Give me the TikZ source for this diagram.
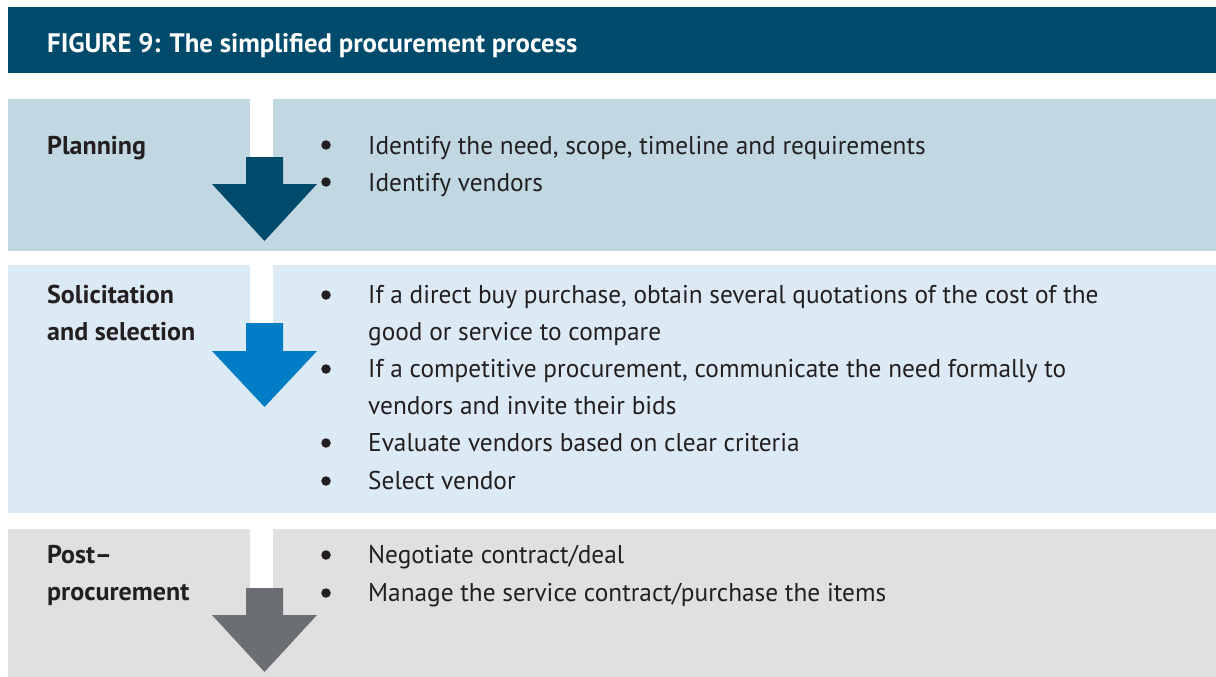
\documentclass[tikz,border=0pt]{standalone}
\usepackage{fontspec}
\setmainfont{PT Sans}
\newfontfamily\bodyfont{PT Sans}[FakeStretch=0.985]
\newfontfamily\lblfont{PT Sans}[FakeStretch=1.012]
\definecolor{hdr}{HTML}{004B6B}
\definecolor{boxa}{HTML}{C1D8E3}
\definecolor{boxb}{HTML}{DCEAF5}
\definecolor{boxc}{HTML}{E0E0E0}
\definecolor{arra}{HTML}{004B6B}
\definecolor{arrb}{HTML}{007DC5}
\definecolor{arrc}{HTML}{6B6E72}
\definecolor{ink}{HTML}{231F20}
\begin{document}
\begin{tikzpicture}[x=1pt,y=-1pt,
  txt/.style={anchor=base west, inner sep=0pt, text=ink, font=\bodyfont\fontsize{25.7}{30}\selectfont},
  lbl/.style={anchor=base west, inner sep=0pt, text=ink, font=\lblfont\fontsize{25.7}{30}\selectfont\bfseries},
  ttl/.style={anchor=base west, inner sep=0pt, text=white, font=\fontsize{26.75}{30}\selectfont\bfseries},
  dot/.style={circle, fill=ink, inner sep=0pt, minimum size=9.5pt},
]
\useasboundingbox (0,0) rectangle (1216,677);
\fill[white] (0,0) rectangle (1216,677);
% header
\fill[hdr] (8,7) rectangle (1216,73);
\node[ttl] (title) at (47,53) {FIGURE 9: The simplified procurement process};
% boxes
\fill[boxa] (8,99) rectangle (1216,251);
\fill[white] (250,99) rectangle (273,157);
\fill[boxb] (8,265) rectangle (1216,513);
\fill[white] (250,265) rectangle (273,323);
\fill[boxc] (8,529) rectangle (1216,677);
\fill[white] (250,529) rectangle (273,588);
% arrows
\fill[arra] (246,157) -- (283,157) -- (283,184) -- (317,184) -- (264.5,241) -- (212,184) -- (246,184) -- cycle;
\fill[arrb] (246,323) -- (283,323) -- (283,351) -- (317,351) -- (264.5,407) -- (212,351) -- (246,351) -- cycle;
\fill[arrc] (246,588) -- (283,588) -- (283,615) -- (317,615) -- (264.5,672) -- (212,615) -- (246,615) -- cycle;
% labels
\node[lbl] (l1) at (47,154) {Planning};
\node[lbl] (l2a) at (47,303) {Solicitation};
\node[lbl] (l2b) at (47,340) {and selection};
\node[lbl] (l3a) at (47,563) {Post–};
\node[lbl] (l3b) at (47,600) {procurement};
% box 1 bullets
\node[dot] (d11) at (326,145) {};
\node[txt] (t11) at (368,154) {Identify the need, scope, timeline and requirements};
\node[dot] (d12) at (326,182) {};
\node[txt] (t12) at (368,191) {Identify vendors};
% box 2 bullets
\node[dot] (d21) at (326,295) {};
\node[txt] (t21a) at (368,303) {If a direct buy purchase, obtain several quotations of the cost of the};
\node[txt] (t21b) at (368,340) {good or service to compare};
\node[dot] (d22) at (326,369) {};
\node[txt] (t22a) at (368,377) {If a competitive procurement, communicate the need formally to};
\node[txt] (t22b) at (368,414) {vendors and invite their bids};
\node[dot] (d23) at (326,443) {};
\node[txt] (t23) at (368,451) {Evaluate vendors based on clear criteria};
\node[dot] (d24) at (326,481) {};
\node[txt] (t24) at (368,489) {Select vendor};
% box 3 bullets
\node[dot] (d31) at (326,555) {};
\node[txt] (t31) at (368,563) {Negotiate contract/deal};
\node[dot] (d32) at (326,593) {};
\node[txt] (t32) at (368,601) {Manage the service contract/purchase the items};
\end{tikzpicture}
\end{document}
